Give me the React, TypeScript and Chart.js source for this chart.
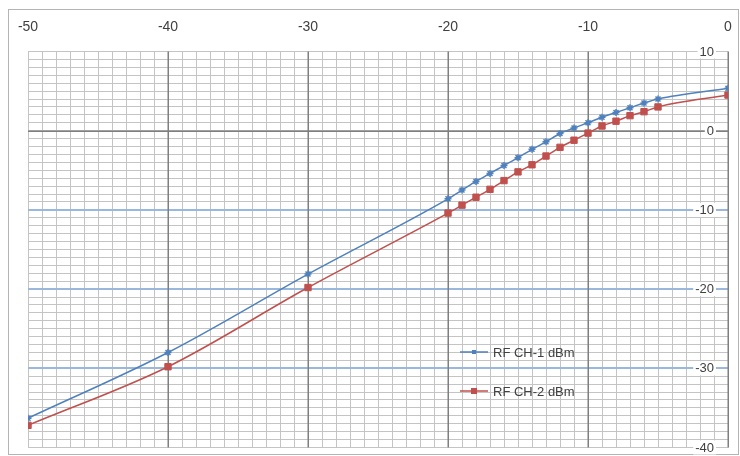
import { useEffect, useRef } from 'react';
import { Chart, registerables } from 'chart.js';

Chart.register(...registerables);

const xValues = [-50, -40, -30, -20, -19, -18, -17, -16, -15, -14, -13, -12, -11, -10, -9, -8, -7, -6, -5, 0];
const ch1Values = [-36.3, -28.0, -18.1, -8.6, -7.5, -6.4, -5.4, -4.4, -3.4, -2.35, -1.4, -0.35, 0.35, 1.0, 1.7, 2.3, 2.9, 3.5, 4.0, 5.35];
const ch2Values = [-37.2, -29.8, -19.8, -10.4, -9.4, -8.4, -7.4, -6.3, -5.2, -4.3, -3.2, -2.1, -1.2, -0.3, 0.6, 1.2, 1.9, 2.4, 3.0, 4.5];
const seriesNames = ['RF CH-1 dBm', 'RF CH-2 dBm'];
const seriesColors = ['#4F81BD', '#C0504D'];
const xTickLabels = [-50, -40, -30, -20, -10, 0];
const yTickLabels = [10, 0, -10, -20, -30, -40];
const xMajorLines = [-40, -30, -20, -10, 0];
const yBlueLines = [-10, -20, -30];
const yDarkLines = [0];
const xMin = -50;
const xMax = 0;
const yMin = -40;
const yMax = 10;

const FONT = "'Liberation Sans', Arial, sans-serif";
const MINOR = '#c4c4c4';

const framePlugin = {
  id: 'frame',
  beforeDraw(chart: any) {
    const ctx = chart.ctx;
    ctx.save();
    ctx.fillStyle = '#ffffff';
    ctx.fillRect(0, 0, chart.width, chart.height);
    ctx.strokeStyle = '#b4b4b4';
    ctx.lineWidth = 1;
    ctx.strokeRect(8.5, 9.5, 730, 445);
    ctx.restore();
  },
};

const majorGridPlugin = {
  id: 'majorGrid',
  beforeDatasetsDraw(chart: any) {
    const ctx = chart.ctx;
    const xs = chart.scales.x;
    const ys = chart.scales.y;
    const a = chart.chartArea;
    ctx.save();
    ctx.lineWidth = 2;
    ctx.strokeStyle = '#9ab8dc';
    yBlueLines.forEach((v) => {
      const y = Math.round(ys.getPixelForValue(v));
      ctx.beginPath();
      ctx.moveTo(a.left, y);
      ctx.lineTo(a.right, y);
      ctx.stroke();
    });
    ctx.lineWidth = 1.5;
    ctx.strokeStyle = '#7f7f7f';
    xMajorLines.forEach((v) => {
      const x = Math.round(xs.getPixelForValue(v)) + 0.25;
      ctx.beginPath();
      ctx.moveTo(x, a.top);
      ctx.lineTo(x, a.bottom);
      ctx.stroke();
    });
    yDarkLines.forEach((v) => {
      const y = Math.round(ys.getPixelForValue(v)) + 0.25;
      ctx.beginPath();
      ctx.moveTo(a.left, y);
      ctx.lineTo(a.right, y);
      ctx.stroke();
    });

    // axis labels
    ctx.fillStyle = '#404040';
    ctx.font = `14px ${FONT}`;
    ctx.textAlign = 'center';
    ctx.textBaseline = 'middle';
    xTickLabels.forEach((v) => {
      ctx.fillText(String(v), xs.getPixelForValue(v), 27);
    });
    ctx.font = `13px ${FONT}`;
    ctx.textAlign = 'right';
    const rx = a.right - 14;
    yTickLabels.forEach((v) => {
      const y = ys.getPixelForValue(v);
      const t = String(v);
      const w = ctx.measureText(t).width;
      ctx.fillStyle = '#ffffff';
      ctx.fillRect(rx - w - 2, y - 7, w + 4, 14);
      ctx.fillStyle = '#404040';
      ctx.fillText(t, rx, y + 0.5);
    });
    ctx.restore();
  },
};

const legendPlugin = {
  id: 'insideLegend',
  afterDraw(chart: any) {
    const ctx = chart.ctx;
    ctx.save();
    const x0 = 460;
    const ys = [352, 391];
    ctx.font = `13px ${FONT}`;
    ctx.textAlign = 'left';
    ctx.textBaseline = 'middle';
    seriesNames.forEach((name, i) => {
      const y = ys[i];
      ctx.strokeStyle = seriesColors[i];
      ctx.lineWidth = 1.5;
      ctx.beginPath();
      ctx.moveTo(x0, y);
      ctx.lineTo(x0 + 28, y);
      ctx.stroke();
      ctx.fillStyle = seriesColors[i];
      const s = i === 0 ? 4 : 6;
      ctx.fillRect(x0 + 14 - s / 2, y - s / 2, s, s);
      ctx.fillStyle = '#404040';
      ctx.fillText(name, x0 + 33, y + 1);
    });
    ctx.restore();
  },
};

export default function App() {
  const canvasRef = useRef<HTMLCanvasElement | null>(null);

  useEffect(() => {
    if (!canvasRef.current) return;
    const mkData = (vals: number[]) => xValues.map((x, i) => ({ x, y: vals[i] }));
    const chart = new Chart(canvasRef.current, {
      type: 'line',
      data: {
        datasets: [
          {
            label: seriesNames[0],
            data: mkData(ch1Values),
            borderColor: seriesColors[0],
            backgroundColor: seriesColors[0],
            borderWidth: 1.5,
            pointStyle: 'star',
            pointRadius: 3.5,
            pointBorderWidth: 1.5,
            pointBorderColor: seriesColors[0],
            cubicInterpolationMode: 'monotone',
            fill: false,
          },
          {
            label: seriesNames[1],
            data: mkData(ch2Values),
            borderColor: seriesColors[1],
            backgroundColor: seriesColors[1],
            borderWidth: 1.5,
            pointStyle: 'rect',
            pointRadius: 4.5,
            pointBorderWidth: 1,
            pointBorderColor: seriesColors[1],
            cubicInterpolationMode: 'monotone',
            fill: false,
          },
        ],
      },
      options: {
        responsive: false,
        animation: false,
        layout: { padding: { left: 28, right: 12, top: 51.5, bottom: 8.5 } },
        plugins: {
          legend: { display: false },
          tooltip: { enabled: false },
        },
        scales: {
          x: {
            type: 'linear',
            position: 'top',
            min: xMin,
            max: xMax,
            afterFit: (scale: any) => {
              scale.height = 0;
            },
            border: { display: false },
            grid: { drawTicks: false, color: MINOR, lineWidth: 1 },
            ticks: { display: false, stepSize: 1, autoSkip: false },
          },
          y: {
            type: 'linear',
            position: 'right',
            min: yMin,
            max: yMax,
            afterFit: (scale: any) => {
              scale.width = 0;
            },
            border: { display: false },
            grid: { drawTicks: false, color: MINOR, lineWidth: 1 },
            ticks: { display: false, stepSize: 1, autoSkip: false },
          },
        },
      },
      plugins: [framePlugin, majorGridPlugin, legendPlugin],
    });
    return () => chart.destroy();
  }, []);

  return (
    <div style={{ position: 'absolute', left: 0, top: 0, width: 740, height: 456 }}>
      <canvas ref={canvasRef} width={740} height={456} style={{ display: 'block' }} />
    </div>
  );
}
